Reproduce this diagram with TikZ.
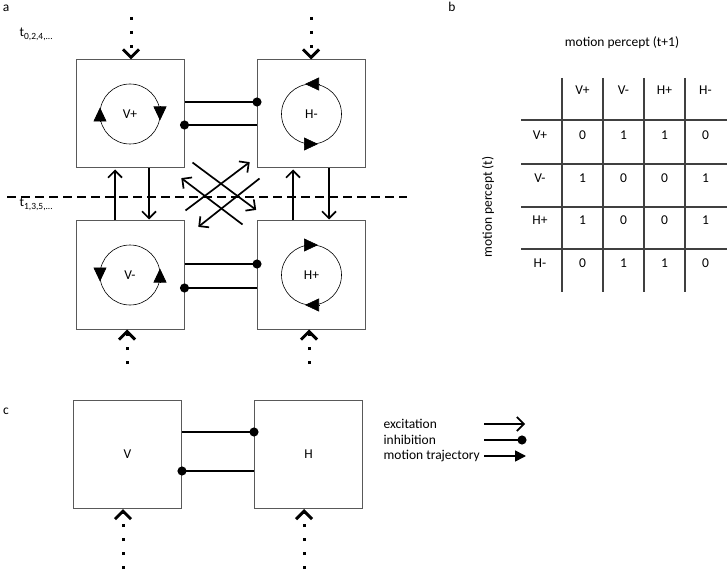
\documentclass[tikz,border=0pt]{standalone}
\usepackage{fontspec}
\setmainfont{Carlito}
\usepackage{tikz}
\usetikzlibrary{arrows.meta, calc, positioning}
\tikzset{
    percept/.style ={rectangle, draw=black!65, line width=1pt, minimum size=108pt, inner sep=0pt},
    excite/.style = {line width=1.7pt, -{Straight Barb[length=7pt,width=14pt]}, shorten >=1pt},
    inhibit/.style = {line width=1.7pt, -{Circle[length=9pt]}, shorten >=-4.5pt},
    traj/.style = {-{Triangle[length=14pt,width=13pt]}},
    feed/.style = {line width=3pt, dash pattern=on 3.5pt off 10.5pt,
                   -{Straight Barb[length=8pt,width=16pt,line width=3pt]}},
    tabline/.style = {draw=black!75, line width=1.2pt}
    }

\begin{document}
\begin{tikzpicture}[
      x=1pt, y=-1pt, % pixel grid, y downwards
      font=\fontsize{13.5}{15}\selectfont,
      semithick % line style
    ]
    \useasboundingbox (0,0) rectangle (728,572);

    % a
    \node (la) at (6,8) {a};
    \node[anchor=base west] (t0) at (16,37) {t\textsubscript{0,2,4,...}};
    \node[anchor=base west] (t1) at (16,207) {t\textsubscript{1,3,5,...}};

    \node[percept] (vp) at (130,114) {V+};
    \node[percept] (hm) at (311.5,114) {H-};
    \node[percept] (vm) at (130,275) {V-};
    \node[percept] (hp) at (311.5,275) {H+};

    \draw (vp.center) circle (30);
    \draw (hm.center) circle (30);
    \draw (vm.center) circle (30);
    \draw (hp.center) circle (30);

    \draw[traj] ($(vp.center)+(-30,7.5)$) -- ($(vp.center)+(-30,-6.5)$);
    \draw[traj] ($(vp.center)+(30,-7.5)$) -- ($(vp.center)+(30,6.5)$);
    \draw[traj] ($(hm.center)+(7.5,-30)$) -- ($(hm.center)+(-6.5,-30)$);
    \draw[traj] ($(hm.center)+(-7.5,30)$) -- ($(hm.center)+(6.5,30)$);
    \draw[traj] ($(vm.center)+(-30,-7.5)$) -- ($(vm.center)+(-30,6.5)$);
    \draw[traj] ($(vm.center)+(30,7.5)$) -- ($(vm.center)+(30,-6.5)$);
    \draw[traj] ($(hp.center)+(-7.5,-30)$) -- ($(hp.center)+(6.5,-30)$);
    \draw[traj] ($(hp.center)+(7.5,30)$) -- ($(hp.center)+(-6.5,30)$);

    \draw[inhibit] ([yshift=12pt]vp.east) -- ([yshift=12pt]hm.west);
    \draw[inhibit] ([yshift=-11pt]hm.west) -- ([yshift=-11pt]vp.east);
    \draw[inhibit] ([yshift=11pt]vm.east) -- ([yshift=11pt]hp.west);
    \draw[inhibit] ([yshift=-13pt]hp.west) -- ([yshift=-13pt]vm.east);

    \draw[excite] ([xshift=-15pt]vm.north) -- ([xshift=-15pt]vp.south);
    \draw[excite] ([xshift=19pt]vp.south) -- ([xshift=19pt]vm.north);
    \draw[excite] ([xshift=-18.5pt]hp.north) -- ([xshift=-18.5pt]hm.south);
    \draw[excite] ([xshift=17.5pt]hm.south) -- ([xshift=17.5pt]hp.north);

    \draw[excite] ($(vm.north east)+(1,-10)$) -- ($(hm.south west)+(-6.5,-7)$);
    \draw[excite] ($(hm.south west)+(2.5,10)$) -- ($(vm.north east)+(13,7)$);
    \draw[excite] ($(vp.south east)+(8,-6)$) -- ($(hp.north west)+(0,-10)$);
    \draw[excite] ($(hp.north west)+(-14.5,4)$) -- ($(vp.south east)+(-4,9)$);

    \draw[line width=1.7pt, dash pattern=on 9pt off 5pt] (7,197) -- (407,197);

    \coordinate (vpin) at (131,17);
    \coordinate (hmin) at (311,17);
    \coordinate (vmin) at (127,364);
    \coordinate (hpin) at (309,364);
    \draw[feed] (vpin) -- (vpin |- vp.north);
    \draw[feed] (hmin) -- (hmin |- hm.north);
    \draw[feed] (vmin) -- (vmin |- vm.south);
    \draw[feed] (hpin) -- (hpin |- hp.south);

    % b
    \node (lb) at (452,7) {b};
    \node (xlab) at (622,43) {motion percept (t+1)};
    \node[rotate=90] (ylab) at (488,207) {motion percept (t)};

    \foreach \x in {562,603,644,685}
        \draw[tabline] (\x,78) -- (\x,292);
    \foreach \y in {120,164,207,249}
        \draw[tabline] (521,\y) -- (727,\y);

    \foreach \lab [count=\i] in {V+,V-,H+,H-} {
        \node (col\i) at ({582.5+41*(\i-1)},90) {\lab};
        \node (row\i) at (540,{135+42.7*(\i-1)}) {\lab};
    }
    \foreach \row [count=\r] in {{0,1,1,0},{1,0,0,1},{1,0,0,1},{0,1,1,0}}
        \foreach \val [count=\c] in \row
            \node (e\r\c) at ({582.5+41*(\c-1)},{135+42.7*(\r-1)}) {\val};

    % c
    \node (lc) at (6,411) {c};
    \node[percept] (v) at (127.5,454.5) {V};
    \node[percept] (h) at (308.5,454.5) {H};

    \draw[inhibit] ([yshift=22.5pt]v.east) -- ([yshift=22.5pt]h.west);
    \draw[inhibit] ([yshift=-16.5pt]h.west) -- ([yshift=-16.5pt]v.east);

    \coordinate (vin) at (123,569);
    \coordinate (hin) at (304,569);
    \draw[feed] (vin) -- (vin |- v.south);
    \draw[feed] (hin) -- (hin |- h.south);

    \node[anchor=west] (kex) at (380,424) {excitation};
    \node[anchor=west] (kin) at (380,440) {inhibition};
    \node[anchor=west] (ktr) at (380,456) {motion trajectory};
    \coordinate (kexa) at (484,424);
    \coordinate (kexb) at (526,424);
    \coordinate (kina) at (484,440);
    \coordinate (kinb) at (522,440);
    \coordinate (ktra) at (484,456);
    \coordinate (ktrb) at (526,456);
    \draw[excite] (kexa) -- (kexb);
    \draw[inhibit] (kina) -- (kinb);
    \draw[-{Triangle[length=11pt,width=11pt]}, line width=1.7pt] (ktra) -- (ktrb);
\end{tikzpicture}
\end{document}
